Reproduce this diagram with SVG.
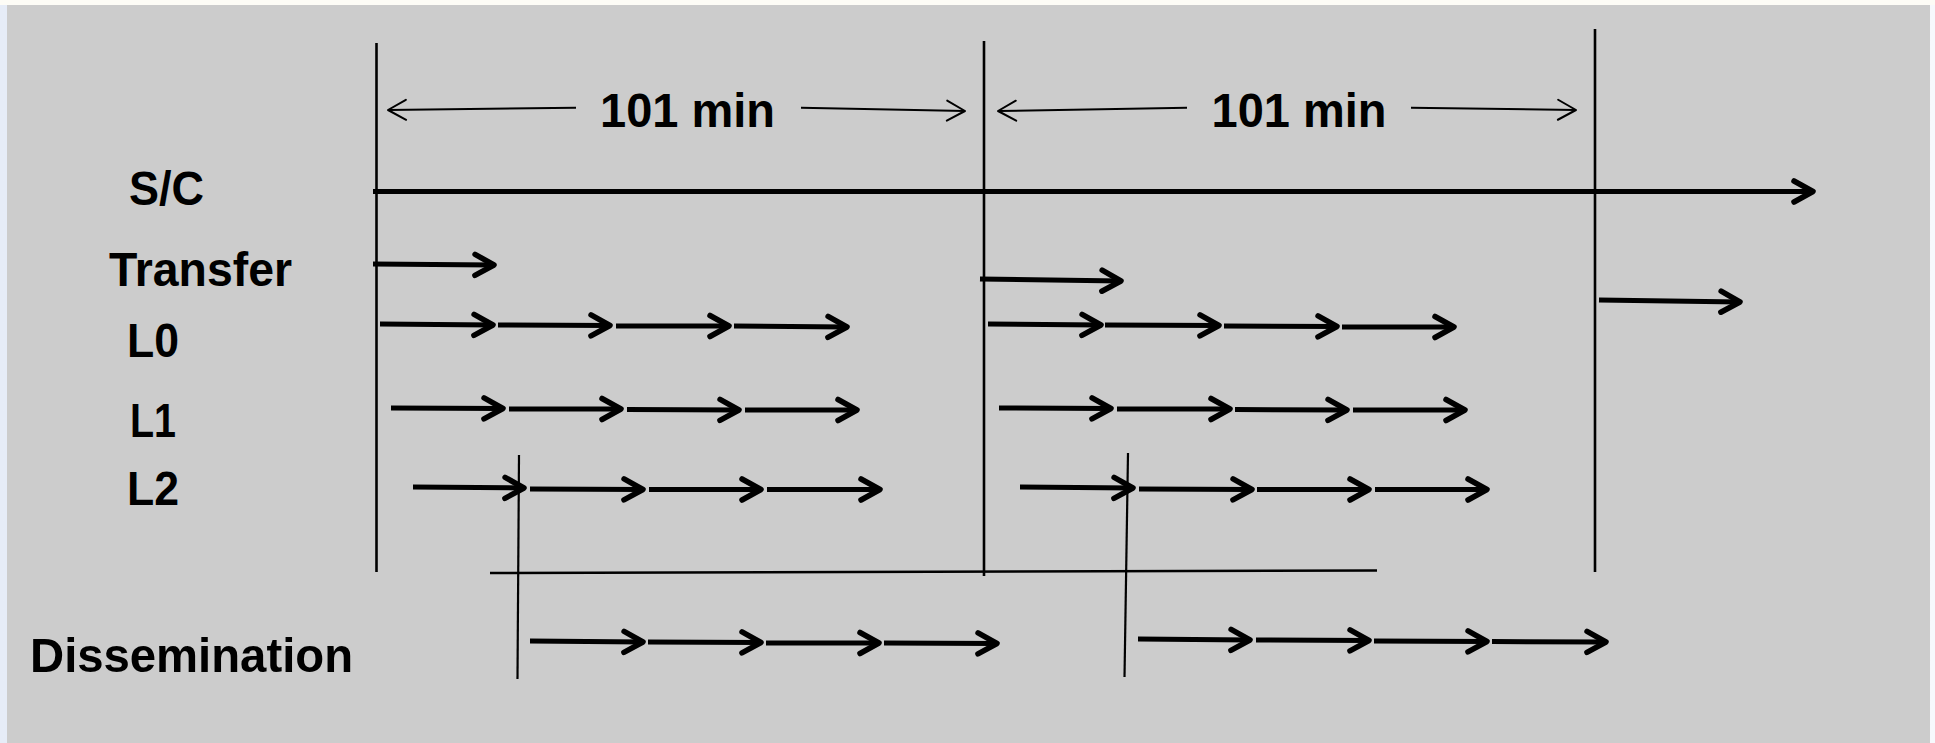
<svg xmlns="http://www.w3.org/2000/svg" width="1935" height="743" viewBox="0 0 1935 743">
  <style>
    .lbl { font-family: "Liberation Sans", Arial, sans-serif; font-weight: bold; font-size: 49px; fill: #000; }
    .bar { stroke: #000; stroke-width: 2.6; fill: none; }
    .tick { stroke: #000; stroke-width: 2.2; fill: none; }
    .dim { stroke: #000; stroke-width: 2; fill: none; marker-end: url(#thin); }
    .step { stroke: #000; stroke-width: 5; fill: none; marker-end: url(#bold); }
  </style>
  <defs>
    <linearGradient id="edge" x1="0" y1="0" x2="1" y2="0">
      <stop offset="0" stop-color="#e6ecf7"/>
      <stop offset="1" stop-color="#f7f9fd"/>
    </linearGradient>
    <marker id="bold" markerUnits="userSpaceOnUse" viewBox="-24 -15 28 30" markerWidth="28" markerHeight="30" refX="0" refY="0" orient="auto">
      <path d="M -19 -10.5 L 0 0 L -19 10.5" fill="none" stroke="#000" stroke-width="5.5" stroke-linecap="round" stroke-linejoin="round"/>
    </marker>
    <marker id="thin" markerUnits="userSpaceOnUse" viewBox="-22 -13 25 26" markerWidth="25" markerHeight="26" refX="0" refY="0" orient="auto">
      <path d="M -18 -10 L 0 0 L -18 10" fill="none" stroke="#000" stroke-width="2" stroke-linecap="round" stroke-linejoin="round"/>
    </marker>
  </defs>

  <!-- page and panel -->
  <rect x="0" y="0" width="1935" height="743" fill="url(#edge)"/>
  <rect x="0" y="0" width="1935" height="5" fill="#fdfcf6"/>
  <rect x="7" y="5" width="1923" height="738" fill="#cccccc"/>

  <!-- row labels -->
  <g id="label-sc"><text class="lbl" x="129" y="205" textLength="75" lengthAdjust="spacingAndGlyphs">S/C</text></g>
  <g id="label-transfer"><text class="lbl" x="109" y="286" textLength="183" lengthAdjust="spacingAndGlyphs">Transfer</text></g>
  <g id="label-l0"><text class="lbl" x="127" y="357" textLength="52" lengthAdjust="spacingAndGlyphs">L0</text></g>
  <g id="label-l1"><text class="lbl" x="130" y="437" textLength="46" lengthAdjust="spacingAndGlyphs">L1</text></g>
  <g id="label-l2"><text class="lbl" x="127" y="505" textLength="52" lengthAdjust="spacingAndGlyphs">L2</text></g>
  <g id="label-dissemination"><text class="lbl" x="30" y="672" textLength="323" lengthAdjust="spacingAndGlyphs">Dissemination</text></g>

  <!-- orbit period annotations -->
  <g id="period-1">
    <text class="lbl" x="600" y="127" textLength="175" lengthAdjust="spacingAndGlyphs">101 min</text>
    <line class="dim" x1="576" y1="107.7" x2="388" y2="110"/>
    <line class="dim" x1="801" y1="107.7" x2="965" y2="111"/>
  </g>
  <g id="period-2">
    <text class="lbl" x="1211.5" y="127" textLength="175" lengthAdjust="spacingAndGlyphs">101 min</text>
    <line class="dim" x1="1187" y1="107.7" x2="998" y2="111"/>
    <line class="dim" x1="1411" y1="107.7" x2="1576" y2="110"/>
  </g>

  <g id="connectors">
    <!-- orbit boundaries -->
    <line class="bar" x1="376.5" y1="43" x2="376.5" y2="572"/>
    <line class="bar" x1="984" y1="41" x2="984" y2="576"/>
    <line class="bar" x1="1595" y1="29" x2="1595" y2="572"/>
    <!-- dissemination start markers and divider -->
    <line class="tick" x1="519" y1="455" x2="517.5" y2="679"/>
    <line class="tick" x1="1128" y1="453" x2="1124.5" y2="677"/>
    <line class="bar" x1="490" y1="573" x2="1377" y2="570.5"/>

    <!-- spacecraft timeline -->
    <line class="step" x1="373" y1="191.5" x2="1813" y2="191.5"/>

    <!-- transfer -->
    <line class="step" x1="373" y1="264" x2="494" y2="265"/>
    <line class="step" x1="980" y1="279" x2="1121" y2="281"/>
    <line class="step" x1="1599" y1="300" x2="1740" y2="302"/>

    <!-- L0 -->
    <line class="step" x1="380" y1="324" x2="493" y2="325"/>
    <line class="step" x1="498" y1="325" x2="610" y2="325.5"/>
    <line class="step" x1="616" y1="326" x2="729" y2="326"/>
    <line class="step" x1="734" y1="326" x2="847" y2="327"/>
    <line class="step" x1="988" y1="324" x2="1101" y2="325"/>
    <line class="step" x1="1105" y1="325" x2="1219" y2="325.5"/>
    <line class="step" x1="1224" y1="326" x2="1337" y2="326.5"/>
    <line class="step" x1="1342" y1="327" x2="1454" y2="327"/>

    <!-- L1 -->
    <line class="step" x1="391" y1="408" x2="503" y2="408.5"/>
    <line class="step" x1="509" y1="409" x2="621" y2="409"/>
    <line class="step" x1="627" y1="409.5" x2="739" y2="410"/>
    <line class="step" x1="745" y1="410" x2="857" y2="410"/>
    <line class="step" x1="999" y1="408" x2="1111" y2="408.5"/>
    <line class="step" x1="1117" y1="409" x2="1230" y2="409"/>
    <line class="step" x1="1235" y1="409.5" x2="1347" y2="410"/>
    <line class="step" x1="1353" y1="410" x2="1465" y2="410"/>

    <!-- L2 -->
    <line class="step" x1="413" y1="487" x2="524" y2="488"/>
    <line class="step" x1="530" y1="489" x2="643" y2="489.5"/>
    <line class="step" x1="649" y1="489.5" x2="761" y2="489.5"/>
    <line class="step" x1="767" y1="489.5" x2="880" y2="489.5"/>
    <line class="step" x1="1020" y1="487" x2="1133" y2="488"/>
    <line class="step" x1="1139" y1="489" x2="1252" y2="489.5"/>
    <line class="step" x1="1257" y1="489.5" x2="1369" y2="489.5"/>
    <line class="step" x1="1375" y1="489.5" x2="1487" y2="489.5"/>

    <!-- dissemination -->
    <line class="step" x1="530" y1="641" x2="643" y2="642"/>
    <line class="step" x1="648" y1="642" x2="761" y2="642.5"/>
    <line class="step" x1="766" y1="643" x2="879" y2="643"/>
    <line class="step" x1="884" y1="643" x2="997" y2="643.5"/>
    <line class="step" x1="1138" y1="639" x2="1250" y2="640"/>
    <line class="step" x1="1256" y1="640" x2="1369" y2="640.5"/>
    <line class="step" x1="1374" y1="641" x2="1487" y2="641.5"/>
    <line class="step" x1="1492" y1="641.5" x2="1606" y2="642"/>
  </g>
</svg>
